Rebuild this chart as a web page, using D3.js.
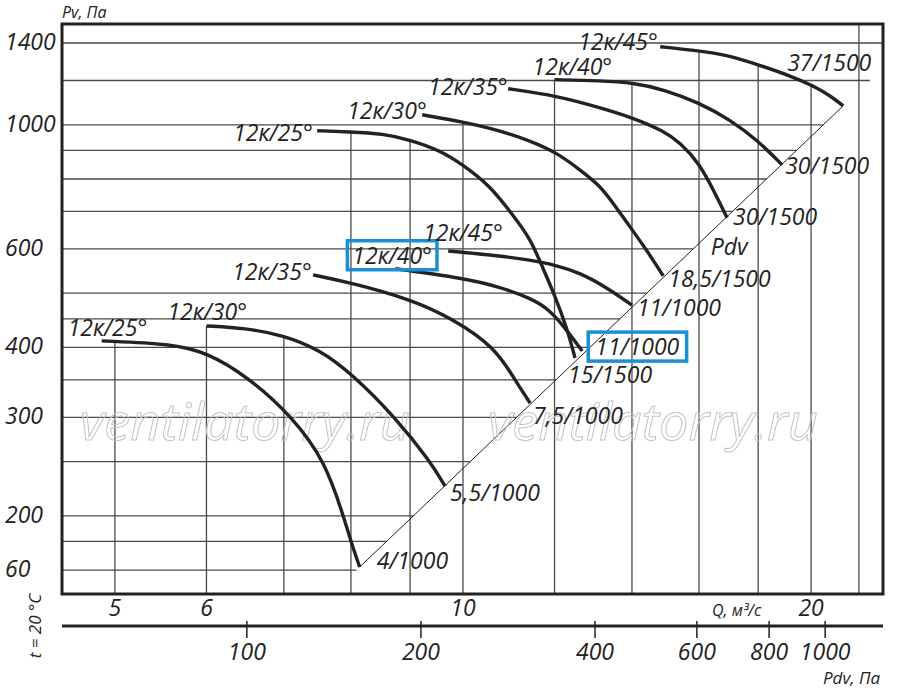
<!DOCTYPE html>
<html>
<head>
<meta charset="utf-8">
<script src="https://cdn.jsdelivr.net/npm/d3@7"></script>
<style>
  html,body{margin:0;padding:0;background:#fff;}
  svg{display:block;}
  text{font-family:"Open Sans","Noto Sans",sans-serif;font-style:italic;fill:#222;}
</style>
</head>
<body>
<svg id="chart" width="900" height="688"></svg>
<script>
// ---------------- DATA ----------------
// Axis domains (Q, m3/s  and Pv, Pa) and tick values
const qDomain = [4.5, 23.08];
const pvDomain = [145, 1514];
const pdvDomain = [47.9, 1259];
const qTicks = [5, 6, 10, 20];
const qGrid = [5, 6, 7, 8, 9, 10, 12, 14, 16, 18, 20, 22];
const pvTicks = [160, 200, 300, 400, 600, 1000, 1400];
const pvTickLabels = ["60", "200", "300", "400", "600", "1000", "1400"];
const pvGrid = [160, 180, 200, 250, 300, 350, 400, 450, 500, 600, 700, 800, 900, 1000, 1200, 1400];
const pdvTicks = [100, 200, 400, 600, 800, 1000];

// Blade settings and motor labels
const blades = ["12к/25°", "12к/30°", "12к/35°", "12к/40°", "12к/45°"];
const motors1000 = ["4/1000", "5,5/1000", "7,5/1000", "11/1000", "11/1000"];
const motors1500 = ["15/1500", "18,5/1500", "30/1500", "30/1500", "37/1500"];

// Characteristic curves [Q, Pv] at 1000 rpm
const c25_1000 = [[4.87,411],[5.6,406],[6.0,392],[6.5,356],[7.13,300],[7.6,250],[7.88,200],[8.0,180],[8.14,162]];
const c30_1000 = [[6.0,437],[6.48,433],[6.99,421],[7.52,396],[8.0,360],[8.74,300],[9.37,250],[9.65,226]];
const c35_1000 = [[7.42,539],[8.0,522],[9.0,488],[9.8,450],[10.66,400],[11.09,350],[11.43,318]];
const c40_1000 = [[8.74,553],[10.0,532],[10.77,513],[11.43,490],[11.82,471],[12.2,439],[12.68,394]];
const c45_1000 = [[9.71,595],[10.77,583],[11.43,573],[12.0,562],[12.62,544],[13.33,511],[14.0,476]];
// Characteristic curves [Q, Pv] at 1500 rpm
const c25_1500 = [[7.48,976],[7.98,971],[8.53,964],[9.0,940],[9.55,900],[10.0,848],[10.55,778],[10.98,700],[11.43,628],[11.72,555],[12.0,497],[12.3,433],[12.5,383]];
const c30_1500 = [[9.22,1042],[10.0,1012],[10.77,976],[11.43,936],[12.06,891],[12.62,831],[13.14,778],[13.48,725],[14.03,646],[14.43,595],[14.9,537]];
const c35_1500 = [[10.94,1160],[12.06,1127],[13.14,1073],[14.03,1029],[14.9,976],[15.41,929],[16.0,855],[16.52,755],[16.92,682]];
const c40_1500 = [[12.0,1204],[13.14,1199],[14.03,1189],[14.95,1155],[16.0,1095],[17.02,1021],[18.0,936],[18.88,848]];
const c45_1500 = [[14.81,1379],[16.0,1356],[17.02,1329],[18.0,1280],[19.18,1224],[20.09,1174],[20.78,1127],[21.32,1081]];

// Dynamic-pressure line Pdv (end points, [Q, Pv])
const pdvLine = [[8.14,162],[21.32,1081]];

// ---------------- LAYOUT ----------------
const M = {left:62, right:883, top:24, bottom:594};
const pdvAxisY = 626;
const curveColor = "#222";
const gridColor = "#4a4a4a";
const boxColor = "#1a8fd6";

const curves = [
  {pts:c25_1000, name:blades[0], end:motors1000[0], s:[-34,-5], e:[17,2]},
  {pts:c30_1000, name:blades[1], end:motors1000[1], s:[-39,-6], e:[5,15]},
  {pts:c35_1000, name:blades[2], end:motors1000[2], s:[-81,5], e:[3,21]},
  {pts:c40_1000, name:blades[3], end:motors1000[3], s:[-43,-5], e:[13,4], boxStart:true, boxEnd:true},
  {pts:c45_1000, name:blades[4], end:motors1000[4], s:[-25,-10], e:[5,11]},
  {pts:c25_1500, name:blades[0], end:motors1500[0], s:[-84,10], e:[-7,25]},
  {pts:c30_1500, name:blades[1], end:motors1500[1], s:[-75,4], e:[5,11]},
  {pts:c35_1500, name:blades[2], end:motors1500[2], s:[-80,6], e:[6,7]},
  {pts:c40_1500, name:blades[3], end:motors1500[3], s:[-22,-5], e:[3,9]},
  {pts:c45_1500, name:blades[4], end:motors1500[4], s:[-82,3], e:[-56,-35]}
];

const svg = d3.select("#chart");
const x = d3.scaleLog().domain(qDomain).range([M.left, M.right]);
const y = d3.scaleLog().domain(pvDomain).range([M.bottom, M.top]);
const xPdv = d3.scaleLog().domain(pdvDomain).range([M.left, M.right]);

// Pdv line in log-log space
const pSlope = Math.log(pdvLine[1][1]/pdvLine[0][1]) / Math.log(pdvLine[1][0]/pdvLine[0][0]);
function qOnPdv(pv){ return pdvLine[0][0] * Math.pow(pv/pdvLine[0][1], 1/pSlope); }

// envelope of curves for vertical grid line tops
function interp(pts, q){
  if (q < pts[0][0] - 1e-9 || q > pts[pts.length-1][0] + 1e-9) return null;
  for (let i=0;i<pts.length-1;i++){
    const a=pts[i], b=pts[i+1];
    if (q >= a[0]-1e-9 && q <= b[0]+1e-9){
      const t = (Math.log(q)-Math.log(a[0]))/(Math.log(b[0])-Math.log(a[0]));
      return Math.exp(Math.log(a[1]) + t*(Math.log(b[1])-Math.log(a[1])));
    }
  }
  return pts[0][1];
}
function envelopeTop(q){
  let best = null;
  curves.forEach(c=>{ const v = interp(c.pts,q); if (v!==null && (best===null || v>best)) best=v; });
  return best===null ? M.top : y(best);
}

// ---------------- GRID ----------------
const grid = svg.append("g");
grid.selectAll("line.v").data(qGrid).join("line")
  .attr("x1", d=>x(d)).attr("x2", d=>x(d))
  .attr("y1", M.bottom).attr("y2", d=>envelopeTop(d))
  .attr("stroke", gridColor).attr("stroke-width", 1.3);
grid.selectAll("line.h").data(pvGrid).join("line")
  .attr("x1", M.left)
  .attr("x2", d=>Math.min(M.right, x(qOnPdv(d))))
  .attr("y1", d=>y(d)).attr("y2", d=>y(d))
  .attr("stroke", gridColor).attr("stroke-width", 1.3);

// Pdv diagonal
svg.append("line")
  .attr("x1", x(pdvLine[0][0])).attr("y1", y(pdvLine[0][1]))
  .attr("x2", x(pdvLine[1][0])).attr("y2", y(pdvLine[1][1]))
  .attr("stroke", "#222").attr("stroke-width", 1);

// watermark
[80, 488].forEach(wx=>{
  svg.append("text").attr("x", wx).attr("y", 440)
    .attr("textLength", 330).attr("lengthAdjust","spacingAndGlyphs")
    .style("font-size","52px").style("fill","none")
    .style("stroke","#c4c4c4").style("stroke-width",1)
    .text("ventilatorry.ru");
});

// ---------------- CURVES ----------------
const line = d3.line().x(d=>x(d[0])).y(d=>y(d[1])).curve(d3.curveBasis);
svg.append("g").selectAll("path").data(curves).join("path")
  .attr("d", d=>line(d.pts))
  .attr("fill","none").attr("stroke",curveColor).attr("stroke-width",3.4)
  .attr("stroke-linecap","butt");

// frame
svg.append("rect").attr("x",M.left).attr("y",M.top)
  .attr("width",M.right-M.left).attr("height",M.bottom-M.top)
  .attr("fill","none").attr("stroke","#222").attr("stroke-width",3);

// ---------------- LABELS ----------------
const labelSize = "23px";
const lbl = svg.append("g");
curves.forEach(c=>{
  const s = c.pts[0], e = c.pts[c.pts.length-1];
  const t1 = lbl.append("text")
    .attr("x", x(s[0]) + c.s[0]).attr("y", y(s[1]) + c.s[1])
    .style("font-size", labelSize).text(c.name);
  const t2 = lbl.append("text")
    .attr("x", x(e[0]) + c.e[0]).attr("y", y(e[1]) + c.e[1])
    .style("font-size", labelSize).text(c.end);
  const boxes = [];
  if (c.boxStart) boxes.push([t1, 5, 0]);
  if (c.boxEnd) boxes.push([t2, 7, 0]);
  boxes.forEach(([t, px, py])=>{
    const b = t.node().getBBox();
    lbl.append("rect")
      .attr("x", b.x - px).attr("y", b.y + 2 - py)
      .attr("width", b.width + 2*px).attr("height", b.height - 3 + 2*py)
      .attr("fill","none").attr("stroke",boxColor).attr("stroke-width",3.5);
  });
});

// "Pdv" label along the diagonal
const pdvLabelPv = 585;
lbl.append("text")
  .attr("x", x(qOnPdv(pdvLabelPv)) + 24).attr("y", y(pdvLabelPv))
  .style("font-size", labelSize).text("Pdv");

// Pv axis tick labels
svg.append("g").selectAll("text").data(pvTicks).join("text")
  .attr("x", 5).attr("y", d=>y(d)+7)
  .style("font-size","23px")
  .text((d,i)=>pvTickLabels[i]);

// Q axis tick labels
svg.append("g").selectAll("text").data(qTicks).join("text")
  .attr("x", d=>x(d)).attr("y", 616)
  .attr("text-anchor","middle")
  .style("font-size","23px")
  .text(d=>d);

// Pdv axis
const pdvG = svg.append("g");
pdvG.append("line").attr("x1",M.left).attr("x2",M.right)
  .attr("y1",pdvAxisY).attr("y2",pdvAxisY)
  .attr("stroke","#222").attr("stroke-width",3);
pdvG.selectAll("line.t").data(pdvTicks).join("line")
  .attr("x1",d=>xPdv(d)).attr("x2",d=>xPdv(d))
  .attr("y1",pdvAxisY-5).attr("y2",pdvAxisY+12)
  .attr("stroke","#222").attr("stroke-width",1.5);
pdvG.selectAll("text").data(pdvTicks).join("text")
  .attr("x",d=>xPdv(d)).attr("y",660)
  .attr("text-anchor","middle")
  .style("font-size","23px")
  .text(d=>d);

// axis titles
svg.append("text").attr("x",62).attr("y",18).style("font-size","16px").text("Pv, Па");
svg.append("text").attr("x",712).attr("y",616).style("font-size","16px").text("Q, м³/с");
svg.append("text").attr("x",823).attr("y",684).style("font-size","17px").text("Pdv, Па");
svg.append("text")
  .attr("transform","translate(41,626) rotate(-90)")
  .attr("text-anchor","middle")
  .style("font-size","17px").text("t = 20 °C");
</script>
</body>
</html>
